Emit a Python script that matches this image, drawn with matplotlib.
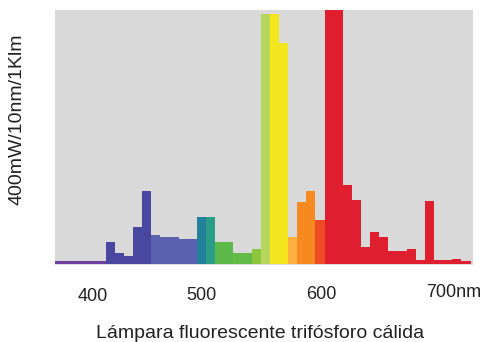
"""Warm tri-phosphor fluorescent lamp: spectral power distribution bar chart."""

import matplotlib
matplotlib.use("Agg")
import matplotlib.pyplot as plt
import numpy as np

plt.rcParams["font.family"] = ["Liberation Sans", "DejaVu Sans"]

# spectral power per wavelength bin (mW / 10nm / 1 klm)
bin_start = 414.4          # nm, left edge of first coloured bar
bin_width = 7.75           # nm
power = [35, 18, 12, 59, 115, 46, 43, 42, 40, 39,
         74, 74, 34, 34, 17, 17, 23, 394, 394, 348,
         43, 97, 115, 69, 420, 420, 124, 100, 26, 51,
         42, 21, 21, 23, 6, 99, 6, 6, 8, 5]
bar_colors = (["#4a47a0"] * 5 + ["#5a62b0"] * 5 +
              ["#22809a", "#2a9d86", "#5cb848", "#5cb848", "#62bb46", "#62bb46",
               "#8cc63f", "#b6d65c", "#f3e51e", "#f3e51e", "#fbb040", "#f6891f",
               "#f6891f", "#ee4a24"] + ["#df1f30"] * 16)

# faint violet tail below the first bin
tail_power = [5, 5, 5, 5, 5, 5]
tail_color = "#6a3f9e"

tick_vals = [400, 500, 600, 700]
tick_labels = ["400", "500", "600", "700nm"]
tick_dx = [3, -3.6, -2, -11]       # points, labels sit a little off the true scale
tick_dy = [-23, -22, -21, -19.5]   # points below the axis

ylabel = "400mW/10nm/1Klm"
caption = "Lámpara fluorescente trifósforo cálida"

fig = plt.figure(figsize=(4.87, 3.42), dpi=100)
ax = fig.add_axes([55 / 487, 1 - 265 / 342, 418 / 487, 255 / 342])
ax.set_facecolor("#d9d9d9")

left = bin_start + bin_width * np.arange(len(power))
ax.bar(left, power, width=bin_width, align="edge", color=bar_colors, linewidth=0)
tail_left = bin_start - bin_width * np.arange(len(tail_power), 0, -1)
ax.bar(tail_left, tail_power, width=bin_width, align="edge", color=tail_color, linewidth=0)

ax.set_xlim(371.4, 726.5)
ax.set_ylim(-1.6, 400)
ax.set_xticks([])
ax.set_yticks([])
for s in ax.spines.values():
    s.set_visible(False)

for v, lab, dx, dy in zip(tick_vals, tick_labels, tick_dx, tick_dy):
    ax.annotate(lab, xy=(v, 0), xycoords=("data", "axes fraction"),
                xytext=(dx, dy), textcoords="offset points",
                ha="left" if lab.endswith("nm") else "center", va="center",
                fontsize=13, color="#222222", annotation_clip=False)

fig.text(17.5 / 487, 1 - 119 / 342, ylabel, rotation=90, ha="center", va="center",
         fontsize=14, color="#222222")
fig.text(260 / 487, 1 - 333 / 342, caption, ha="center", va="center",
         fontsize=14, color="#222222")

fig.savefig("out.png", dpi=100)
